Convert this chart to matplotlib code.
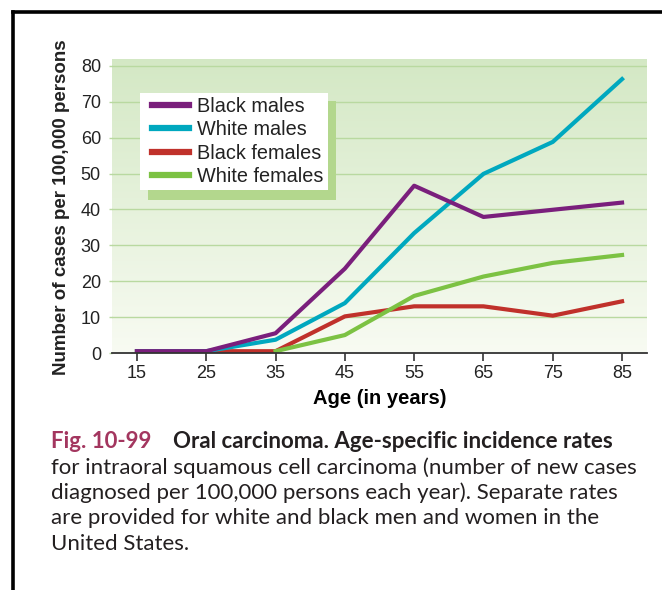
import numpy as np
import matplotlib
matplotlib.use("Agg")
import matplotlib.pyplot as plt
from matplotlib.patches import Rectangle
from matplotlib.lines import Line2D

# Age-specific incidence, cases per 100,000 persons
ages = [15, 25, 35, 45, 55, 65, 75, 85]
black_males = [0.5, 0.5, 5.5, 23.5, 46.6, 37.9, 39.9, 41.9]
white_males = [0.5, 0.5, 3.7, 13.9, 33.4, 49.9, 58.8, 76.3]
black_females = [0.5, 0.5, 0.5, 10.2, 13.0, 13.0, 10.4, 14.4]
white_female_ages = [35, 45, 55, 65, 75, 85]
white_females = [0.5, 5.0, 15.9, 21.3, 25.1, 27.3]

y_ticks = [0, 10, 20, 30, 40, 50, 60, 70, 80]

W, H = 662, 590
fig = plt.figure(figsize=(W / 100, H / 100), dpi=100)
plt.rcParams['font.family'] = ['Liberation Sans', 'DejaVu Sans']

# plot area in pixels (left, top, right, bottom)
L, T, R, B = 112, 59, 647, 353
ax = fig.add_axes([L / W, 1 - B / H, (R - L) / W, (B - T) / H])
ax.set_xlim(11.4, 88.6)
ax.set_ylim(0, 81.9)


def to_axes(px, py):
    return (px - L) / (R - L), (B - py) / (B - T)


# green gradient background
grad = np.linspace(0, 1, 256)[:, None]
top_c = np.array([0.830, 0.910, 0.770])
bot_c = np.array([0.972, 0.984, 0.950])
img = top_c[None, None, :] * (1 - grad[:, :, None]) + bot_c[None, None, :] * grad[:, :, None]
ax.imshow(img, extent=[0, 1, 0, 1], transform=ax.transAxes, aspect='auto', zorder=0)

for v in y_ticks[1:]:
    ax.axhline(v, color='#b9d9a0', lw=1, zorder=1)

c_bm, c_wm, c_bf, c_wf = '#7a1f7c', '#00a8bf', '#c0312b', '#7cc243'
lw = 3.0
ax.plot(ages, black_females, color=c_bf, lw=lw, zorder=3)
ax.plot(white_female_ages, white_females, color=c_wf, lw=lw, zorder=3)
ax.plot(ages, white_males, color=c_wm, lw=lw, zorder=4)
ax.plot(ages, black_males, color=c_bm, lw=lw, zorder=5)

for s in ['top', 'right', 'left']:
    ax.spines[s].set_visible(False)
ax.spines['bottom'].set_color('#333333')
ax.spines['bottom'].set_linewidth(1.3)
ax.spines['bottom'].set_zorder(6)

ax.set_xticks(ages)
ax.set_yticks(y_ticks)
ax.tick_params(axis='x', direction='out', length=6, width=1.2, color='#333333',
               labelsize=13, labelcolor='#222222', pad=3)
ax.tick_params(axis='y', direction='out', length=2, width=1, color='#b9d9a0',
               labelsize=13, labelcolor='#222222', pad=6)
ax.set_xlabel('Age (in years)', fontsize=14.5, fontweight='bold', labelpad=5)

fig.text(62 / W, 1 - 207 / H, 'Number of cases per 100,000 persons', rotation=90,
         fontsize=13.5, fontweight='bold', ha='center', va='center', color='#222222')

# legend box with offset green shadow
bx0, by0 = to_axes(140, 190)
bx1, by1 = to_axes(328, 93)
sx0, sy0 = to_axes(148, 200)
sx1, sy1 = to_axes(336, 101)
ax.add_patch(Rectangle((sx0, sy0), sx1 - sx0, sy1 - sy0, transform=ax.transAxes,
                       facecolor='#b3d78d', edgecolor='none', zorder=6))
ax.add_patch(Rectangle((bx0, by0), bx1 - bx0, by1 - by0, transform=ax.transAxes,
                       facecolor='white', edgecolor='none', zorder=7))

handles = [Line2D([], [], color=c, lw=4.5) for c in (c_bm, c_wm, c_bf, c_wf)]
labels = ['Black males', 'White males', 'Black females', 'White females']
leg = ax.legend(handles, labels, loc='upper left', bbox_to_anchor=to_axes(152, 97),
                borderaxespad=0, borderpad=0, fontsize=14.3, frameon=False,
                handlelength=1.85, handletextpad=0.4, labelspacing=0.22)
leg.set_zorder(8)
for t in leg.get_texts():
    t.set_color('#222222')

# frame lines
fig.add_artist(Line2D([13 / W, 1], [1 - 12 / H, 1 - 12 / H], color='black', lw=2.6))
fig.add_artist(Line2D([13 / W, 13 / W], [0, 1 - 12 / H], color='black', lw=2.6))

# caption
cap_font = ['Lato', 'DejaVu Sans']
cap_size = 16
x_start = 51
base_y = [448, 473.5, 499, 524.5, 550]
fig.canvas.draw()
renderer = fig.canvas.get_renderer()


def put(x_px, y_px, text, **kw):
    t = fig.text(x_px / W, 1 - y_px / H, text, fontsize=cap_size, family=cap_font,
                 va='baseline', ha='left', **kw)
    return x_px + t.get_window_extent(renderer).width


x = put(x_start, base_y[0], 'Fig. 10-99', color='#a3365f', fontweight='bold')
put(x + 22, base_y[0], 'Oral carcinoma. Age-specific incidence rates',
    color='#231f20', fontweight='bold')
rest = ['for intraoral squamous cell carcinoma (number of new cases',
        'diagnosed per 100,000 persons each year). Separate rates',
        'are provided for white and black men and women in the',
        'United States.']
for line, y in zip(rest, base_y[1:]):
    put(x_start, y, line, color='#231f20')

fig.savefig('out.png', dpi=100)
